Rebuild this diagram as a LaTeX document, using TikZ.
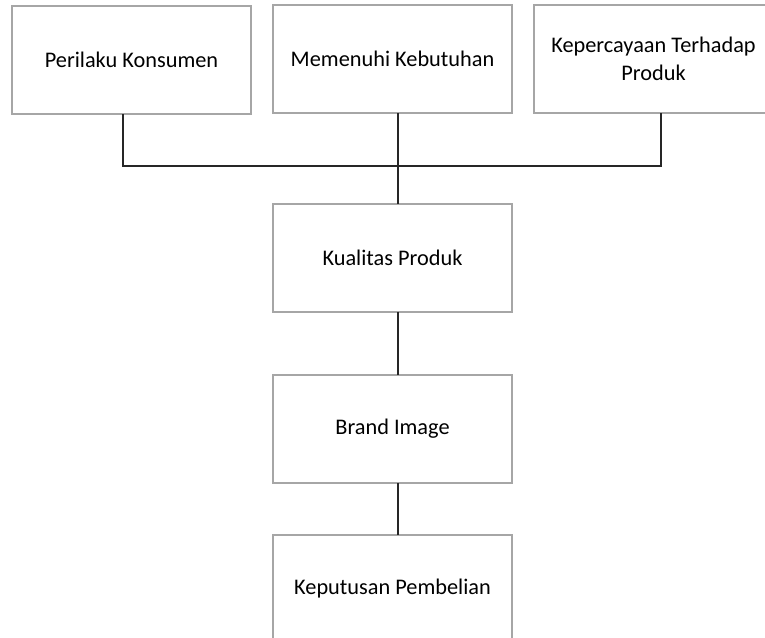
\documentclass[tikz,border=0pt]{standalone}
\usepackage{fontspec}
\setmainfont{Carlito}
\usetikzlibrary{positioning,calc}

\begin{document}
\begin{tikzpicture}[
    kotak/.style={rectangle, draw=black!35, line width=0.6pt,
                  minimum width=4.78cm, minimum height=2.16cm,
                  inner sep=0pt, outer sep=0pt, align=center,
                  font=\fontsize{12.7}{16}\selectfont},
    garis/.style={draw=black!85, line width=0.8pt}
]

\path[use as bounding box, clip] (0,0) rectangle (15.3,-12.76);

\node[kotak] (perilaku) at (2.63,-1.20) {Perilaku Konsumen};
\node[kotak] (memenuhi) at (7.85,-1.18) {Memenuhi Kebutuhan};
\node[kotak] (kepercayaan) at (13.07,-1.18) {Kepercayaan Terhadap\\ Produk};

\node[kotak, below=1.82cm of memenuhi] (kualitas) {Kualitas Produk};
\node[kotak, below=1.26cm of kualitas] (brand) {Brand Image};
\node[kotak, below=1.04cm of brand] (keputusan) {Keputusan Pembelian};

\coordinate (simpul) at (7.96,-3.32);

\draw[garis] ([xshift=-0.17cm]perilaku.south) |- (simpul);
\draw[garis] ([xshift=0.15cm]kepercayaan.south) |- (simpul);
\draw[garis] ([xshift=0.11cm]memenuhi.south) -- ([xshift=0.11cm]kualitas.north);
\draw[garis] ([xshift=0.11cm]kualitas.south) -- ([xshift=0.11cm]brand.north);
\draw[garis] ([xshift=0.11cm]brand.south) -- ([xshift=0.11cm]keputusan.north);

\end{tikzpicture}
\end{document}
